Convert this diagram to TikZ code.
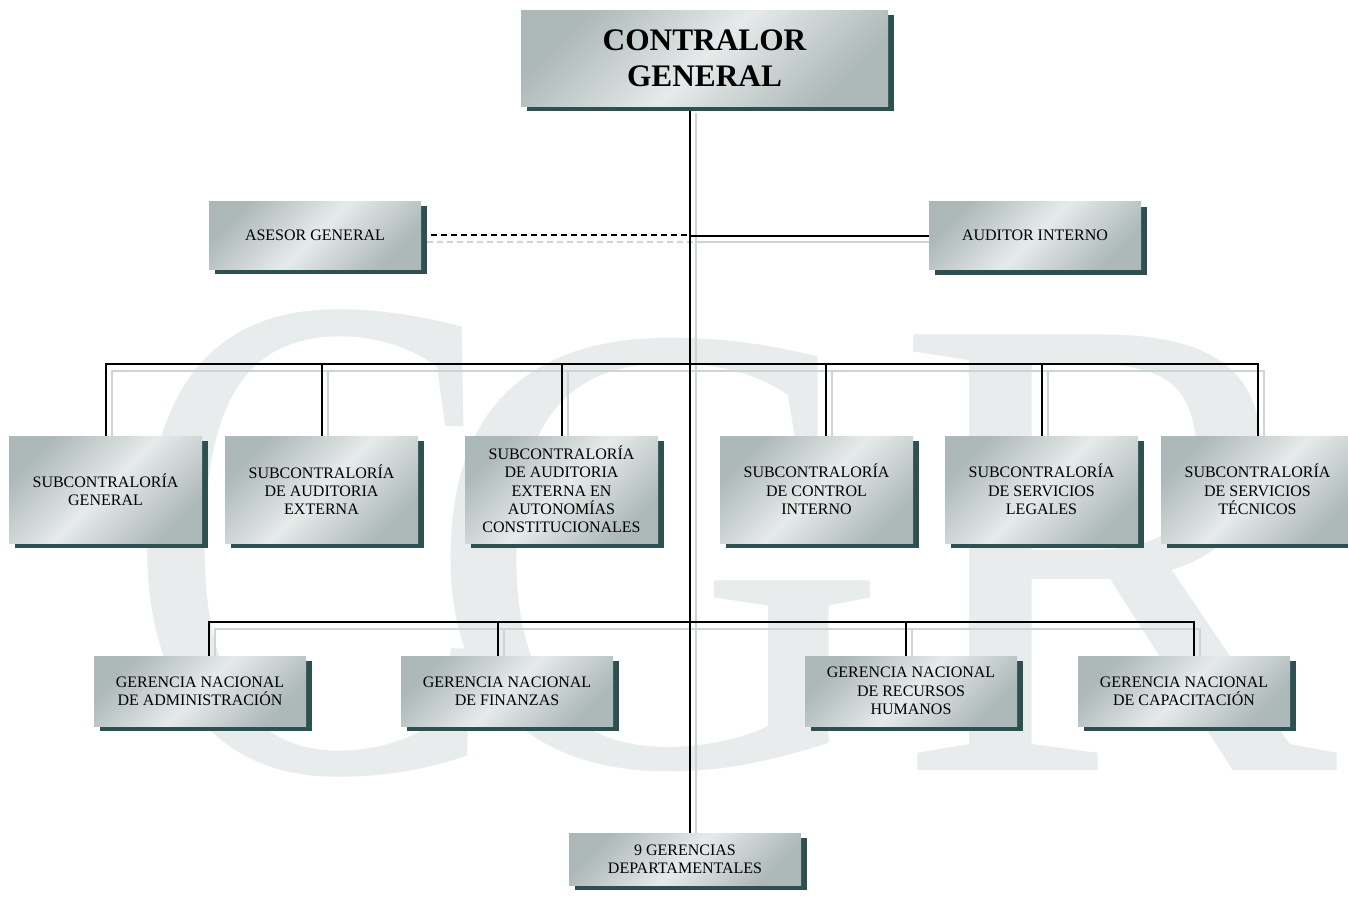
\documentclass[tikz,border=0pt]{standalone}
\usepackage{fontspec}
\usepackage{graphicx}
\setmainfont{Liberation Serif}
\usetikzlibrary{backgrounds,shadows}
\definecolor{boxdark}{HTML}{ADB8B8}
\definecolor{boxlight}{HTML}{E6EAEA}
\definecolor{boxshadow}{HTML}{2F5050}
\definecolor{wirecopy}{HTML}{CDD4D4}
\definecolor{markcol}{HTML}{E8ECEC}
\tikzset{
  orgbox/.style={draw=none, outer sep=0pt, inner sep=2pt, align=center,
    top color=boxdark, bottom color=boxdark, middle color=boxlight, shading angle=45,
    drop shadow={shadow xshift=4.5pt, shadow yshift=-4pt, fill=boxshadow, opacity=1},
    font=\fontsize{12}{13.75}\selectfont},
  headbox/.style={orgbox, minimum width=275.25pt, minimum height=72pt,
    font=\fontsize{23.5}{27}\selectfont\bfseries},
  staffbox/.style={orgbox, minimum width=159pt, minimum height=51pt},
  subbox/.style={orgbox, minimum width=144.75pt, minimum height=80.25pt},
  gerbox/.style={orgbox, minimum width=159pt, minimum height=52.5pt},
  depbox/.style={orgbox, minimum width=174pt, minimum height=39pt},
  wire/.style={line width=1.5pt},
  advice/.style={dash pattern=on 4.5pt off 3pt},
  markletter/.style={text=markcol, inner sep=0pt, anchor=base west}
}
% all connectors, drawn twice (grey copy and black)
\newcommand\orgwiring{%
  \draw[wire] (top.south -| trunk) -- (dep.north -| trunk);
  \draw[wire,advice] (ase.east) -- (ase.east -| trunk);
  \draw[wire] (aud.west) -- (aud.west -| trunk);
  \draw[wire] (s1.north) |- (bus1) -| (s6.north);
  \foreach \n/\dx in {s2/0,s3/0,s4/9.5,s5/0}
    \draw[wire] ([xshift=\dx*0.75pt]\n.north) -- ([xshift=\dx*0.75pt]\n.north |- bus1);
  \draw[wire] ([xshift=6.75pt]g1.north) |- (bus2) -| ([xshift=7.5pt]g4.north);
  \foreach \n/\dx in {g2/-9,g3/-5}
    \draw[wire] ([xshift=\dx*0.75pt]\n.north) -- ([xshift=\dx*0.75pt]\n.north |- bus2);
}
\begin{document}
\begin{tikzpicture}[x=0.75pt,y=-0.75pt]
\useasboundingbox (0,0) rectangle (1348,896);

\coordinate (trunk) at (690,0);
\coordinate (bus1) at (690,364);
\coordinate (bus2) at (690,622);

\node[headbox] (top) at (704.5,58) {CONTRALOR\\GENERAL};

\node[staffbox] (ase) at (315,235) {ASESOR GENERAL};
\node[staffbox] (aud) at (1035,235.5) {AUDITOR INTERNO};

\node[subbox] (s1) at (105.5,489.5) {SUBCONTRALORÍA\\GENERAL};
\node[subbox] (s2) at (321.5,489.5) {SUBCONTRALORÍA\\DE AUDITORIA\\EXTERNA};
\node[subbox] (s3) at (561.5,489.5) {SUBCONTRALORÍA\\DE AUDITORIA\\EXTERNA EN\\AUTONOMÍAS\\CONSTITUCIONALES};
\node[subbox] (s4) at (816.5,489.5) {SUBCONTRALORÍA\\DE CONTROL\\INTERNO};
\node[subbox] (s5) at (1041.5,489.5) {SUBCONTRALORÍA\\DE SERVICIOS\\LEGALES};
\node[subbox] (s6) at (1257.5,489.5) {SUBCONTRALORÍA\\DE SERVICIOS\\TÉCNICOS};

\node[gerbox] (g1) at (200,691) {GERENCIA NACIONAL\\DE ADMINISTRACIÓN};
\node[gerbox] (g2) at (507,691) {GERENCIA NACIONAL\\DE FINANZAS};
\node[gerbox] (g3) at (911,691) {GERENCIA NACIONAL\\DE RECURSOS\\HUMANOS};
\node[gerbox] (g4) at (1184,691) {GERENCIA NACIONAL\\DE CAPACITACIÓN};

\node[depbox] (dep) at (685,859) {9 GERENCIAS\\DEPARTAMENTALES};

\begin{scope}[on background layer]
  % watermark
  \node[markletter] (wmC) at (124,770) {\fontsize{522}{522}\selectfont\scalebox{0.81}[1]{C}};
  \node[markletter] (wmG) at (424,765) {\fontsize{484}{484}\selectfont G};
  \node[markletter] (wmR) at (894,770) {\fontsize{499}{499}\selectfont R};
  \begin{scope}[color=wirecopy, transform canvas={shift={(4.5pt,-5pt)}}]
    \orgwiring
  \end{scope}
  \orgwiring
\end{scope}
\end{tikzpicture}
\end{document}
